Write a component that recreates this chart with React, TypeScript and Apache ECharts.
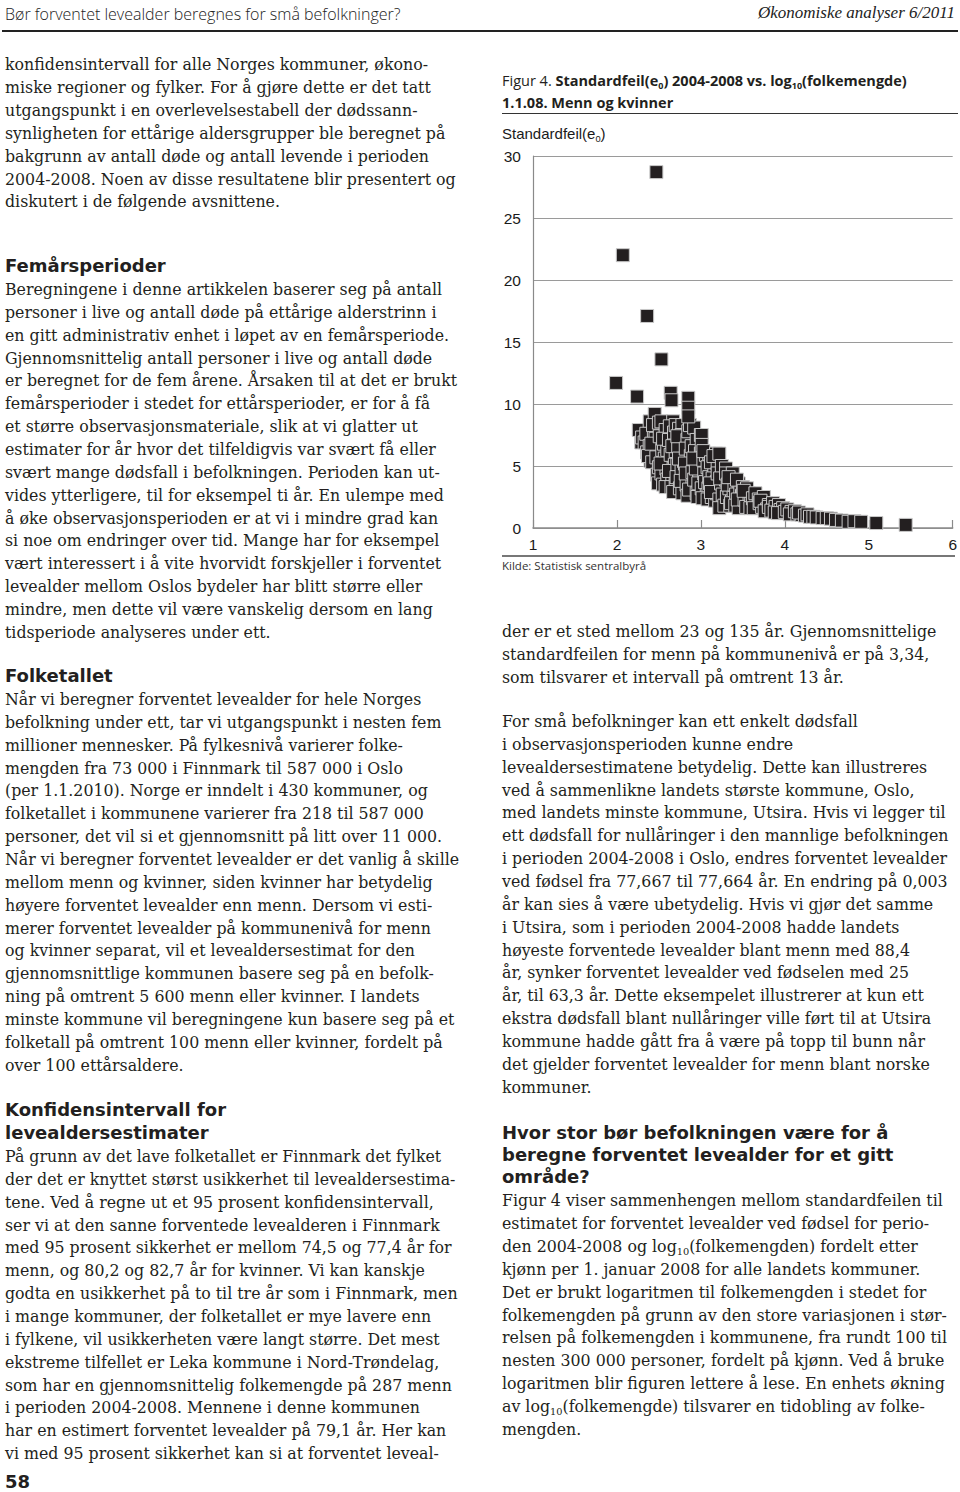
import React, { useEffect, useRef } from "react";
import * as echarts from "echarts";

// ---------- DATA ----------
const xTicks = [1, 2, 3, 4, 5, 6];
const yTicks = [0, 5, 10, 15, 20, 25, 30];

// Isolated municipalities (log10 population, standard error)
const outlierPoints: number[][] = [
  [2.47, 28.7], [2.07, 22.0], [2.36, 17.1], [2.53, 13.6], [1.99, 11.7],
  [2.24, 10.6], [2.64, 10.9], [2.65, 10.3], [2.85, 10.5], [2.85, 9.7], [2.85, 9.0],
];

// Dense cloud of municipalities
const clusterPoints: number[][] = [
  [2.26, 7.9], [2.29, 6.9], [2.30, 7.3],
  [2.33, 6.9], [2.36, 6.1], [2.39, 8.6], [2.35, 7.6], [2.40, 5.4], [2.39, 6.6], [2.37, 5.8],
  [2.45, 9.2], [2.42, 5.3], [2.44, 7.8], [2.46, 7.2], [2.48, 6.4], [2.48, 4.3], [2.49, 3.6],
  [2.43, 8.3], [2.47, 5.7], [2.50, 8.5], [2.41, 6.8], [2.50, 4.9],
  [2.53, 8.6], [2.51, 7.4], [2.54, 6.3], [2.53, 4.4], [2.55, 3.5], [2.57, 5.6], [2.58, 7.9],
  [2.56, 6.8], [2.59, 4.8], [2.52, 5.2], [2.60, 6.3], [2.60, 3.9], [2.58, 3.3], [2.55, 7.2],
  [2.67, 8.6], [2.62, 7.1], [2.64, 5.9], [2.66, 4.2], [2.68, 7.1], [2.70, 6.2], [2.63, 8.2],
  [2.69, 5.1], [2.65, 3.3], [2.70, 3.7], [2.67, 2.9], [2.62, 4.6], [2.68, 7.7], [2.66, 6.6], [2.70, 8.3],
  [2.72, 5.1], [2.71, 4.1], [2.74, 8.0], [2.76, 7.0], [2.78, 6.0], [2.78, 8.3], [2.75, 3.2],
  [2.77, 4.6], [2.73, 6.6], [2.80, 3.3], [2.78, 2.8], [2.80, 5.4], [2.74, 5.6], [2.77, 7.5],
  [2.76, 3.8], [2.72, 7.4],
  [2.84, 7.1], [2.82, 6.4], [2.88, 5.8], [2.90, 5.0], [2.86, 4.2], [2.83, 3.5], [2.88, 2.8],
  [2.85, 7.8], [2.89, 6.6], [2.81, 5.2], [2.90, 3.7], [2.84, 2.6], [2.87, 8.3], [2.82, 4.4],
  [2.86, 3.1], [2.90, 4.5],
  [2.92, 8.1], [2.95, 7.1], [2.93, 6.2], [2.97, 5.3], [2.92, 3.9], [2.95, 2.8], [2.98, 4.3],
  [3.00, 6.0], [2.99, 3.3], [2.94, 4.8], [2.96, 2.5], [3.00, 7.5], [2.91, 5.6], [2.97, 3.6],
  [3.01, 7.5], [3.01, 6.7], [3.03, 5.5], [3.01, 3.2], [3.07, 2.7], [3.04, 4.4], [3.06, 5.9],
  [3.08, 4.9], [3.05, 3.7], [3.09, 3.2], [3.02, 2.4], [3.10, 6.0], [3.08, 2.3], [3.10, 4.1], [3.03, 6.2],
  [3.16, 4.8], [3.18, 6.0], [3.16, 3.2], [3.12, 5.3], [3.14, 4.0], [3.13, 2.5], [3.19, 3.7],
  [3.17, 2.2], [3.20, 5.2], [3.11, 3.6], [3.15, 5.8], [3.19, 2.8], [3.20, 4.4], [3.12, 2.9],
  [3.22, 6.0], [3.22, 2.3], [3.28, 3.1], [3.27, 4.4], [3.25, 5.0], [3.22, 1.6], [3.24, 3.6],
  [3.29, 2.1], [3.26, 2.7], [3.30, 3.9], [3.23, 4.0], [3.30, 4.8], [3.28, 1.8],
  [3.30, 4.4], [3.31, 2.5], [3.36, 3.9], [3.37, 2.3], [3.34, 3.2], [3.38, 4.4], [3.35, 1.8],
  [3.39, 2.9], [3.32, 3.5], [3.40, 3.5], [3.36, 2.0], [3.33, 4.1],
  [3.45, 3.6], [3.48, 2.1], [3.42, 2.7], [3.47, 3.0], [3.43, 3.9], [3.49, 2.6], [3.41, 1.8],
  [3.50, 3.3], [3.45, 1.6], [3.44, 2.3],
  [3.57, 2.8], [3.52, 2.3], [3.55, 3.2], [3.58, 2.0], [3.54, 1.7], [3.60, 2.6], [3.51, 3.0], [3.59, 1.6],
  [3.67, 1.85], [3.62, 2.4], [3.65, 2.8], [3.69, 2.3], [3.63, 1.6], [3.70, 2.0],
  [3.75, 2.5], [3.73, 1.7], [3.78, 2.0], [3.71, 2.2], [3.79, 1.5], [3.76, 1.35],
  [3.81, 1.85], [3.81, 1.7], [3.86, 2.0], [3.84, 1.4], [3.89, 1.7], [3.88, 1.25],
  [3.93, 1.85], [3.95, 1.45], [3.98, 1.6], [3.92, 1.2], [4.00, 1.3],
  [4.03, 1.5], [4.08, 1.3], [4.06, 1.1], [4.12, 1.35], [4.15, 1.1], [4.20, 1.05], [4.17, 1.25],
  [4.24, 1.0], [4.27, 1.1], [4.30, 0.9], [4.34, 0.9], [4.38, 0.85], [4.45, 0.8], [4.50, 0.8],
  [4.55, 0.75], [4.61, 0.65], [4.68, 0.6], [4.76, 0.5], [4.83, 0.55], [4.91, 0.5], [5.09, 0.4], [5.44, 0.25],
];

// ---------- PAGE TEXT ----------
const headerLeft = "Bør forventet levealder beregnes for små befolkninger?";
const headerRight = "Økonomiske analyser 6/2011";
const pageNumber = "58";

const leftP0 = [
  "konfidensintervall for alle Norges kommuner, økono-",
  "miske regioner og fylker. For å gjøre dette er det tatt",
  "utgangspunkt i en overlevelsestabell der dødssann-",
  "synligheten for ettårige aldersgrupper ble beregnet på",
  "bakgrunn av antall døde og antall levende i perioden",
  "2004-2008. Noen av disse resultatene blir presentert og",
  "diskutert i de følgende avsnittene.",
];
const heading1 = ["Femårsperioder"];
const leftP1 = [
  "Beregningene i denne artikkelen baserer seg på antall",
  "personer i live og antall døde på ettårige alderstrinn i",
  "en gitt administrativ enhet i løpet av en femårsperiode.",
  "Gjennomsnittelig antall personer i live og antall døde",
  "er beregnet for de fem årene. Årsaken til at det er brukt",
  "femårsperioder i stedet for ettårsperioder, er for å få",
  "et større observasjonsmateriale, slik at vi glatter ut",
  "estimater for år hvor det tilfeldigvis var svært få eller",
  "svært mange dødsfall i befolkningen. Perioden kan ut-",
  "vides ytterligere, til for eksempel ti år. En ulempe med",
  "å øke observasjonsperioden er at vi i mindre grad kan",
  "si noe om endringer over tid. Mange har for eksempel",
  "vært interessert i å vite hvorvidt forskjeller i forventet",
  "levealder mellom Oslos bydeler har blitt større eller",
  "mindre, men dette vil være vanskelig dersom en lang",
  "tidsperiode analyseres under ett.",
];
const heading2 = ["Folketallet"];
const leftP2 = [
  "Når vi beregner forventet levealder for hele Norges",
  "befolkning under ett, tar vi utgangspunkt i nesten fem",
  "millioner mennesker. På fylkesnivå varierer folke-",
  "mengden fra 73 000 i Finnmark til 587 000 i Oslo",
  "(per 1.1.2010). Norge er inndelt i 430 kommuner, og",
  "folketallet i kommunene varierer fra 218 til 587 000",
  "personer, det vil si et gjennomsnitt på litt over 11 000.",
  "Når vi beregner forventet levealder er det vanlig å skille",
  "mellom menn og kvinner, siden kvinner har betydelig",
  "høyere forventet levealder enn menn. Dersom vi esti-",
  "merer forventet levealder på kommunenivå for menn",
  "og kvinner separat, vil et levealdersestimat for den",
  "gjennomsnittlige kommunen basere seg på en befolk-",
  "ning på omtrent 5 600 menn eller kvinner. I landets",
  "minste kommune vil beregningene kun basere seg på et",
  "folketall på omtrent 100 menn eller kvinner, fordelt på",
  "over 100 ettårsaldere.",
];
const heading3 = ["Konfidensintervall for", "levealdersestimater"];
const leftP3 = [
  "På grunn av det lave folketallet er Finnmark det fylket",
  "der det er knyttet størst usikkerhet til levealdersestima-",
  "tene. Ved å regne ut et 95 prosent konfidensintervall,",
  "ser vi at den sanne forventede levealderen i Finnmark",
  "med 95 prosent sikkerhet er mellom 74,5 og 77,4 år for",
  "menn, og 80,2 og 82,7 år for kvinner. Vi kan kanskje",
  "godta en usikkerhet på to til tre år som i Finnmark, men",
  "i mange kommuner, der folketallet er mye lavere enn",
  "i fylkene, vil usikkerheten være langt større. Det mest",
  "ekstreme tilfellet er Leka kommune i Nord-Trøndelag,",
  "som har en gjennomsnittelig folkemengde på 287 menn",
  "i perioden 2004-2008. Mennene i denne kommunen",
  "har en estimert forventet levealder på 79,1 år. Her kan",
  "vi med 95 prosent sikkerhet kan si at forventet leveal-",
];
const rightP4 = [
  "der er et sted mellom 23 og 135 år. Gjennomsnittelige",
  "standardfeilen for menn på kommunenivå er på 3,34,",
  "som tilsvarer et intervall på omtrent 13 år.",
];
const rightP5 = [
  "For små befolkninger kan ett enkelt dødsfall",
  "i observasjonsperioden kunne endre",
  "levealdersestimatene betydelig. Dette kan illustreres",
  "ved å sammenlikne landets største kommune, Oslo,",
  "med landets minste kommune, Utsira. Hvis vi legger til",
  "ett dødsfall for nullåringer i den mannlige befolkningen",
  "i perioden 2004-2008 i Oslo, endres forventet levealder",
  "ved fødsel fra 77,667 til 77,664 år. En endring på 0,003",
  "år kan sies å være ubetydelig. Hvis vi gjør det samme",
  "i Utsira, som i perioden 2004-2008 hadde landets",
  "høyeste forventede levealder blant menn med 88,4",
  "år, synker forventet levealder ved fødselen med 25",
  "år, til 63,3 år. Dette eksempelet illustrerer at kun ett",
  "ekstra dødsfall blant nullåringer ville ført til at Utsira",
  "kommune hadde gått fra å være på topp til bunn når",
  "det gjelder forventet levealder for menn blant norske",
  "kommuner.",
];
const heading4 = [
  "Hvor stor bør befolkningen være for å",
  "beregne forventet levealder for et gitt",
  "område?",
];
const rightP6 = [
  "Figur 4 viser sammenhengen mellom standardfeilen til",
  "estimatet for forventet levealder ved fødsel for perio-",
  "den 2004-2008 og log_{10}(folkemengden) fordelt etter",
  "kjønn per 1. januar 2008 for alle landets kommuner.",
  "Det er brukt logaritmen til folkemengden i stedet for",
  "folkemengden på grunn av den store variasjonen i stør-",
  "relsen på folkemengden i kommunene, fra rundt 100 til",
  "nesten 300 000 personer, fordelt på kjønn. Ved å bruke",
  "logaritmen blir figuren lettere å lese. En enhets økning",
  "av log_{10}(folkemengde) tilsvarer en tidobling av folke-",
  "mengden.",
];

const figTitleA = "Figur 4. ";
const figTitleB = "Standardfeil(e_{0}) 2004-2008 vs. log_{10}(folkemengde)";
const figTitleC = "1.1.08. Menn og kvinner";
const yAxisName = "Standardfeil(e_{0})";
const sourceText = "Kilde: Statistisk sentralbyrå";

// ---------- HELPERS ----------
const SERIF = "'DejaVu Serif', serif";
const SANS_BOLD = "'DejaVu Sans', sans-serif";
const TEXT_COLOR = "#231f20";

function withSubs(text: string) {
  const parts = text.split(/_\{(.*?)\}/);
  return parts.map((p, i) =>
    i % 2 === 1 ? (
      <sub key={i} style={{ fontSize: "0.62em", verticalAlign: "-0.3em", lineHeight: 0 }}>
        {p}
      </sub>
    ) : (
      <React.Fragment key={i}>{p}</React.Fragment>
    )
  );
}

function Block(props: {
  lines: string[];
  x: number;
  y0: number;
  step: number;
  style: React.CSSProperties;
}) {
  const { lines, x, y0, step, style } = props;
  return (
    <>
      {lines.map((t, i) => (
        <div
          key={i}
          style={{
            position: "absolute",
            left: x,
            top: y0 + i * step - 12,
            height: 24,
            lineHeight: "24px",
            whiteSpace: "nowrap",
            color: TEXT_COLOR,
            ...style,
          }}
        >
          {withSubs(t)}
        </div>
      ))}
    </>
  );
}

const bodyStyle: React.CSSProperties = { fontFamily: SERIF, fontSize: 15.8 };
const headStyle: React.CSSProperties = { fontFamily: SANS_BOLD, fontWeight: 700, fontSize: 18 };

function Chart() {
  const ref = useRef<HTMLDivElement>(null);
  useEffect(() => {
    if (!ref.current) return;
    const chart = echarts.init(ref.current, undefined, { renderer: "svg" });
    const allPoints = [...clusterPoints, ...outlierPoints];
    chart.setOption({
      animation: false,
      grid: { left: 38, top: 16, width: 422, height: 372, containLabel: false },
      xAxis: {
        type: "value",
        min: xTicks[0],
        max: xTicks[xTicks.length - 1],
        interval: 1,
        axisLine: { show: true, lineStyle: { color: "#8a8a8a", width: 1.5 } },
        axisTick: { show: true, inside: true, length: 8, lineStyle: { color: "#8a8a8a", width: 1.2 } },
        axisLabel: {
          margin: 8,
          color: "#1a1a1a",
          fontSize: 15.5,
          fontFamily: "'Liberation Sans', Arial, sans-serif",
        },
        splitLine: { show: false },
      },
      yAxis: {
        type: "value",
        min: yTicks[0],
        max: yTicks[yTicks.length - 1],
        interval: 5,
        axisLine: { show: true, lineStyle: { color: "#8a8a8a", width: 1.2 } },
        axisTick: { show: false },
        axisLabel: {
          margin: 12,
          color: "#1a1a1a",
          fontSize: 15.5,
          fontFamily: "'Liberation Sans', Arial, sans-serif",
        },
        splitLine: { show: true, lineStyle: { color: "#9a9a9a", width: 1.2 } },
      },
      series: [
        {
          type: "scatter",
          data: allPoints,
          symbol: "rect",
          symbolSize: 13,
          itemStyle: { color: "#231f20", borderColor: "#c9c9c9", borderWidth: 1, opacity: 1 },
          clip: false,
        },
      ],
    });
    return () => chart.dispose();
  }, []);
  return (
    <div
      ref={ref}
      style={{ position: "absolute", left: 495, top: 140, width: 465, height: 420 }}
    />
  );
}

export default function App() {
  return (
    <div
      style={{
        position: "absolute",
        left: 0,
        top: 0,
        width: 960,
        height: 1492,
        background: "#fff",
        overflow: "hidden",
      }}
    >
      {/* page header */}
      <div
        style={{
          position: "absolute",
          left: 5,
          top: 3,
          fontFamily: "'Open Sans', sans-serif",
          fontWeight: 300,
          fontSize: 16,
          color: "#222",
          whiteSpace: "nowrap",
        }}
      >
        {headerLeft}
      </div>
      <div
        style={{
          position: "absolute",
          right: 5,
          top: 3,
          fontFamily: "'Liberation Serif', serif",
          fontStyle: "italic",
          fontSize: 17,
          color: "#222",
          whiteSpace: "nowrap",
        }}
      >
        {headerRight}
      </div>
      <div style={{ position: "absolute", left: 2, top: 30, width: 956, height: 2, background: "#222" }} />

      {/* left column */}
      <Block lines={leftP0} x={5} y0={65} step={22.9} style={bodyStyle} />
      <Block lines={heading1} x={5} y0={266} step={23} style={headStyle} />
      <Block lines={leftP1} x={5} y0={290} step={22.85} style={bodyStyle} />
      <Block lines={heading2} x={5} y0={676} step={23} style={headStyle} />
      <Block lines={leftP2} x={5} y0={700} step={22.85} style={bodyStyle} />
      <Block lines={heading3} x={5} y0={1110} step={23} style={headStyle} />
      <Block lines={leftP3} x={5} y0={1157} step={22.85} style={bodyStyle} />
      <Block lines={[pageNumber]} x={5} y0={1482} step={23} style={headStyle} />

      {/* right column */}
      <div
        style={{
          position: "absolute",
          left: 502,
          top: 70,
          fontFamily: "'Open Sans', sans-serif",
          fontSize: 14.5,
          lineHeight: "22px",
          color: TEXT_COLOR,
          whiteSpace: "nowrap",
        }}
      >
        <div>
          <span style={{ fontWeight: 400 }}>{figTitleA}</span>
          <span style={{ fontWeight: 700 }}>{withSubs(figTitleB)}</span>
        </div>
        <div style={{ fontWeight: 700 }}>{figTitleC}</div>
      </div>
      <div style={{ position: "absolute", left: 502, top: 113, width: 456, height: 1, background: "#333" }} />
      <div
        style={{
          position: "absolute",
          left: 502,
          top: 124,
          fontFamily: "'Liberation Sans', Arial, sans-serif",
          fontSize: 15,
          lineHeight: "20px",
          color: "#1a1a1a",
          whiteSpace: "nowrap",
        }}
      >
        {withSubs(yAxisName)}
      </div>
      <Chart />
      <div style={{ position: "absolute", left: 502, top: 555, width: 453, height: 1.5, background: "#777" }} />
      <div
        style={{
          position: "absolute",
          left: 502,
          top: 557,
          fontFamily: "'Open Sans', sans-serif",
          fontSize: 11.5,
          lineHeight: "18px",
          color: "#333",
          whiteSpace: "nowrap",
        }}
      >
        {sourceText}
      </div>

      <Block lines={rightP4} x={502} y0={632} step={23} style={bodyStyle} />
      <Block lines={rightP5} x={502} y0={722} step={22.85} style={bodyStyle} />
      <Block lines={heading4} x={502} y0={1133} step={22} style={headStyle} />
      <Block lines={rightP6} x={502} y0={1201} step={22.9} style={bodyStyle} />
    </div>
  );
}
